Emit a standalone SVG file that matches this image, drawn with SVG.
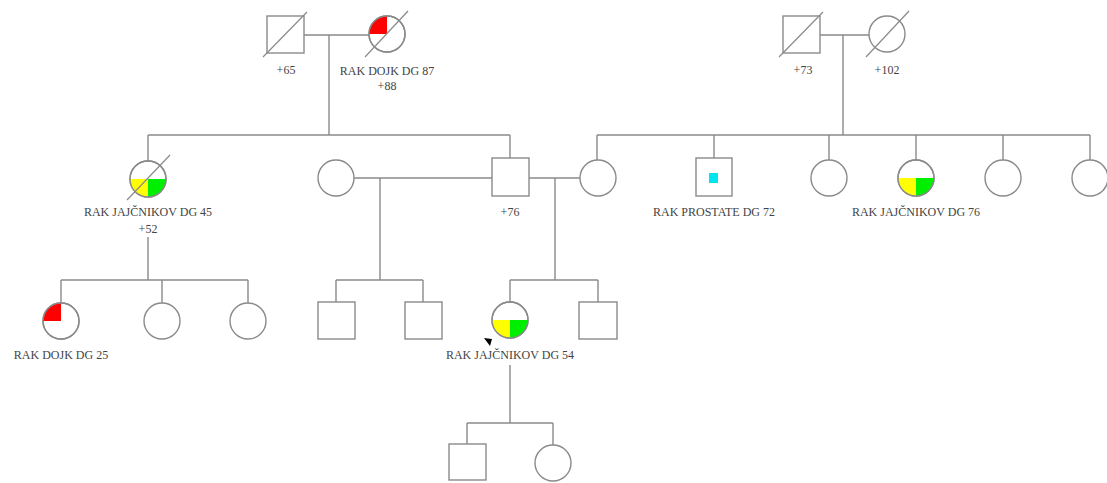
<svg xmlns="http://www.w3.org/2000/svg" width="1107" height="483" viewBox="0 0 1107 483">
<style>
.s{fill:#fff;stroke:#8a8a8a;stroke-width:1.4}
.l{fill:none;stroke:#8a8a8a;stroke-width:1.4}
.d{stroke:#8a8a8a;stroke-width:1.2}
.t{font-family:"Liberation Serif",serif;font-size:12px;fill:#444;text-anchor:middle}
.r{fill:#ff0000}
.y{fill:#ffff00}
.g{fill:#00ee00}
</style>
<rect width="1107" height="483" fill="#fff"/>
<g id="connectors">
<path class="l" d="M304 35H369M329 35V135M148 135H510M148 135V161M510 135V158"/>
<path class="l" d="M820 35H869M843 35V135M597 135H1090M597 135V160M714 135V158M829 135V160M916 135V160M1003 135V160M1090 135V160"/>
<path class="l" d="M354 178H492M380 178V280M336 280H423M336 280V302M423 280V302"/>
<path class="l" d="M529 178H580M555 178V280M510 280H598M510 280V302M598 280V302"/>
<path class="l" d="M148 237V280M61 280H248M61 280V303M162 280V303M248 280V303"/>
<path class="l" d="M510 365V423M467 423H553M467 423V444M553 423V445"/>
</g>
<g id="n1">
<rect class="s" x="267" y="16" width="37" height="37"/>
<line class="d" x1="263" y1="57" x2="307" y2="12"/>
<text class="t" x="286" y="74">+65</text>
</g>
<g id="n2">
<circle class="s" cx="387" cy="34" r="18"/>
<path class="r" d="M387 34H369A18 18 0 0 1 387 16Z"/>
<circle class="l" cx="387" cy="34" r="18"/>
<line class="d" x1="365" y1="57" x2="408" y2="11"/>
<text class="t" x="387" y="75">RAK DOJK DG 87</text>
<text class="t" x="387" y="90">+88</text>
</g>
<g id="n3">
<rect class="s" x="783" y="16" width="37" height="37"/>
<line class="d" x1="779" y1="57" x2="823" y2="12"/>
<text class="t" x="803" y="74">+73</text>
</g>
<g id="n4">
<circle class="s" cx="887" cy="34" r="18"/>
<line class="d" x1="866" y1="57" x2="909" y2="11"/>
<text class="t" x="887" y="74">+102</text>
</g>
<g id="n5">
<circle class="s" cx="148" cy="179" r="18"/>
<path class="y" d="M148 179H130A18 18 0 0 0 148 197Z"/>
<path class="g" d="M148 179H166A18 18 0 0 1 148 197Z"/>
<circle class="l" cx="148" cy="179" r="18"/>
<line class="d" x1="127" y1="200" x2="170" y2="155"/>
<text class="t" x="148" y="216">RAK JAJČNIKOV DG 45</text>
<text class="t" x="148" y="233">+52</text>
</g>
<g id="n6">
<circle class="s" cx="336" cy="178" r="18"/>
</g>
<g id="n7">
<rect class="s" x="492" y="158" width="37" height="38"/>
<text class="t" x="510" y="216">+76</text>
</g>
<g id="n8">
<circle class="s" cx="598" cy="178" r="18"/>
</g>
<g id="n9">
<rect class="s" x="696" y="158" width="36" height="38"/>
<rect x="709" y="173" width="9" height="10" fill="#00e5ee"/>
<text class="t" x="714" y="216">RAK PROSTATE DG 72</text>
</g>
<g id="n10"><circle class="s" cx="829" cy="178" r="18"/></g>
<g id="n11">
<circle class="s" cx="916" cy="178" r="18"/>
<path class="y" d="M916 178H898A18 18 0 0 0 916 196Z"/>
<path class="g" d="M916 178H934A18 18 0 0 1 916 196Z"/>
<circle class="l" cx="916" cy="178" r="18"/>
<text class="t" x="916" y="216">RAK JAJČNIKOV DG 76</text>
</g>
<g id="n12"><circle class="s" cx="1003" cy="178" r="18"/></g>
<g id="n13"><circle class="s" cx="1090" cy="178" r="18"/></g>
<g id="n14">
<circle class="s" cx="61" cy="321" r="18"/>
<path class="r" d="M61 321H43A18 18 0 0 1 61 303Z"/>
<circle class="l" cx="61" cy="321" r="18"/>
<text class="t" x="61" y="359">RAK DOJK DG 25</text>
</g>
<g id="n15"><circle class="s" cx="162" cy="321" r="18"/></g>
<g id="n16"><circle class="s" cx="248" cy="321" r="18"/></g>
<g id="n17"><rect class="s" x="318" y="302" width="37" height="37"/></g>
<g id="n18"><rect class="s" x="405" y="302" width="37" height="37"/></g>
<g id="n19">
<circle class="s" cx="510" cy="320" r="18"/>
<path class="y" d="M510 320H492A18 18 0 0 0 510 338Z"/>
<path class="g" d="M510 320H528A18 18 0 0 1 510 338Z"/>
<circle class="l" cx="510" cy="320" r="18"/>
<polygon points="484,338 492,339 490,346" fill="#000"/>
<text class="t" x="510" y="359">RAK JAJČNIKOV DG 54</text>
</g>
<g id="n20"><rect class="s" x="579" y="302" width="38" height="37"/></g>
<g id="n21"><rect class="s" x="449" y="444" width="37" height="36"/></g>
<g id="n22"><circle class="s" cx="553" cy="463" r="18"/></g>
</svg>
